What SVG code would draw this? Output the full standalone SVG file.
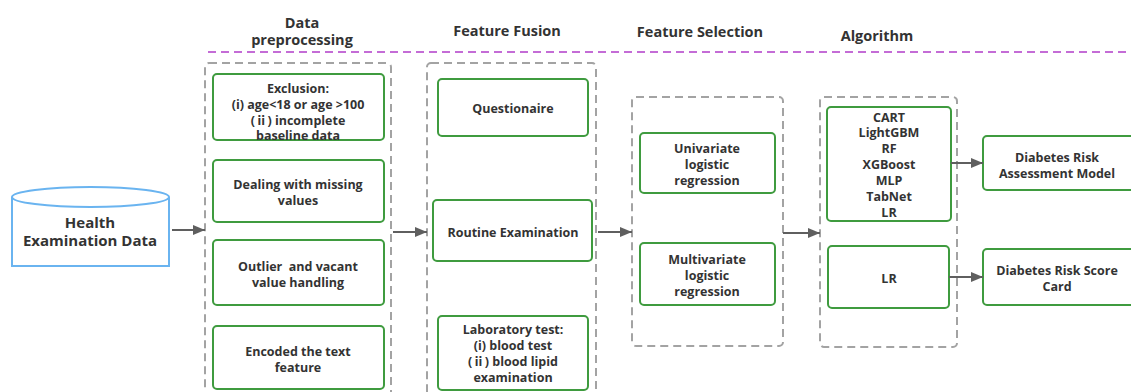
<svg xmlns="http://www.w3.org/2000/svg" width="1131" height="392" viewBox="0 0 1131 392">
<defs>
<marker id="ah" markerWidth="12" markerHeight="10" refX="12" refY="5" orient="auto" markerUnits="userSpaceOnUse">
<path d="M0,0 L12,5 L0,10 Z" fill="#5f5f5f"/>
</marker>
<style>
text{font-family:"Open Sans","Noto Sans CJK SC",sans-serif;font-weight:bold;fill:#333;text-anchor:middle;dominant-baseline:central}
.t{font-size:14.5px}
.n{font-size:12.5px}
.h{font-size:15px}
.box{fill:#fff;stroke:#3f9b3f;stroke-width:2}
.grp{fill:none;stroke:#a3a3a3;stroke-width:2;stroke-dasharray:8 5}
.lane{fill:none;stroke:#c46cd6;stroke-width:2;stroke-dasharray:8 5}
.conn{fill:none;stroke:#5f5f5f;stroke-width:2;marker-end:url(#ah)}
</style>
</defs>
<rect width="1131" height="392" fill="#fff"/>
<g id="titles">
<text class="t" x="302" y="22">Data</text>
<text class="t" x="302" y="39">preprocessing</text>
<text class="t" x="507" y="30">Feature Fusion</text>
<text class="t" x="700" y="31">Feature Selection</text>
<text class="t" x="877" y="35">Algorithm</text>
<line class="lane" x1="208" y1="52" x2="1131" y2="52"/>
</g>
<g id="groups">
<rect class="grp" x="205" y="63" width="186" height="345" rx="4"/>
<rect class="grp" x="427" y="63" width="169" height="345" rx="4"/>
<rect class="grp" x="632" y="97" width="151" height="249" rx="4"/>
<rect class="grp" x="820" y="97" width="137" height="250" rx="4"/>
</g>
<g id="health">
<path d="M12,197 L12,266 L169,266 L169,197" fill="#fff" stroke="#6ab4f0" stroke-width="2"/>
<ellipse cx="90.5" cy="197" rx="78.5" ry="10" fill="#fff" stroke="#6ab4f0" stroke-width="2"/>
<text class="h" x="90" y="222">Health</text>
<text class="h" x="90" y="240">Examination Data</text>
</g>
<g id="exclusion">
<rect class="box" x="213" y="74" width="171" height="66" rx="4"/>
<text class="n" x="298" y="88">Exclusion:</text>
<text class="n" x="298" y="104">(i) age&lt;18 or age &gt;100</text>
<text class="n" x="298" y="120">(ⅱ) incomplete</text>
<text class="n" x="298" y="135">baseline data</text>
</g>
<g id="missing">
<rect class="box" x="213" y="160" width="171" height="62" rx="4"/>
<text class="n" x="298" y="184">Dealing with missing</text>
<text class="n" x="298" y="200">values</text>
</g>
<g id="outlier">
<rect class="box" x="213" y="240" width="171" height="65" rx="4"/>
<text class="n" x="298" y="266" xml:space="preserve">Outlier  and vacant</text>
<text class="n" x="298" y="282">value handling</text>
</g>
<g id="encoded">
<rect class="box" x="213" y="326" width="171" height="63" rx="4"/>
<text class="n" x="298" y="351">Encoded the text</text>
<text class="n" x="298" y="367">feature</text>
</g>
<g id="questionaire">
<rect class="box" x="438" y="79" width="150" height="57" rx="4"/>
<text class="n" x="513" y="108">Questionaire</text>
</g>
<g id="routine">
<rect class="box" x="433" y="200" width="159" height="61" rx="4"/>
<text class="n" x="513" y="232">Routine Examination</text>
</g>
<g id="laboratory">
<rect class="box" x="438" y="316" width="150" height="74" rx="4"/>
<text class="n" x="513" y="329">Laboratory test:</text>
<text class="n" x="513" y="345">(i) blood test</text>
<text class="n" x="513" y="361">(ⅱ) blood lipid</text>
<text class="n" x="513" y="377">examination</text>
</g>
<g id="univariate">
<rect class="box" x="640" y="133" width="135" height="60" rx="4"/>
<text class="n" x="707" y="148">Univariate</text>
<text class="n" x="707" y="164">logistic</text>
<text class="n" x="707" y="180">regression</text>
</g>
<g id="multivariate">
<rect class="box" x="640" y="243" width="135" height="62" rx="4"/>
<text class="n" x="707" y="259">Multivariate</text>
<text class="n" x="707" y="275">logistic</text>
<text class="n" x="707" y="291">regression</text>
</g>
<g id="algorithms">
<rect class="box" x="827" y="107" width="124" height="114" rx="4"/>
<text class="n" x="889" y="117">CART</text>
<text class="n" x="889" y="132">LightGBM</text>
<text class="n" x="889" y="148">RF</text>
<text class="n" x="889" y="164">XGBoost</text>
<text class="n" x="889" y="180">MLP</text>
<text class="n" x="889" y="196">TabNet</text>
<text class="n" x="889" y="212">LR</text>
</g>
<g id="lr">
<rect class="box" x="828" y="246" width="121" height="62" rx="4"/>
<text class="n" x="889" y="278">LR</text>
</g>
<g id="assessment">
<rect class="box" x="983" y="136" width="152" height="54" rx="4"/>
<text class="n" x="1057" y="157">Diabetes Risk</text>
<text class="n" x="1057" y="173">Assessment Model</text>
</g>
<g id="scorecard">
<rect class="box" x="983" y="249" width="152" height="56" rx="4"/>
<text class="n" x="1057" y="270">Diabetes Risk Score</text>
<text class="n" x="1057" y="286">Card</text>
</g>
<g id="connectors">
<line class="conn" x1="172" y1="230" x2="205" y2="230"/>
<line class="conn" x1="393" y1="232" x2="427" y2="232"/>
<line class="conn" x1="598" y1="232" x2="632" y2="232"/>
<line class="conn" x1="783" y1="233" x2="820" y2="233"/>
<line class="conn" x1="951" y1="163" x2="983" y2="163"/>
<line class="conn" x1="949" y1="277" x2="983" y2="277"/>
</g>
</svg>
